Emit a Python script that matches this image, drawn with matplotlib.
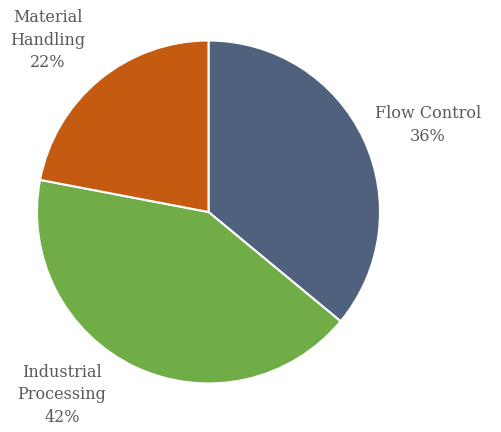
import matplotlib
matplotlib.use("Agg")
import matplotlib.pyplot as plt

segments = ["Flow Control", "Industrial\nProcessing", "Material\nHandling"]
shares = [36, 42, 22]
colors = ["#4F617D", "#70AD47", "#C55A11"]

# label centres in pixel coordinates of the 502x432 canvas
label_pixels = [(428, 125), (62, 395), (48, 40)]

W, H = 502, 432
cx, cy, r = 208.5, 212, 171.5

fig = plt.figure(figsize=(W / 100, H / 100), dpi=100)
ax = fig.add_axes([0, 0, 1, 1])
ax.pie(
    shares,
    colors=colors,
    startangle=90,
    counterclock=False,
    radius=1,
    wedgeprops={"edgecolor": "white", "linewidth": 1.5},
)
ax.set_xlim(-cx / r, (W - cx) / r)
ax.set_ylim(-(H - cy) / r, cy / r)
ax.set_aspect("equal")
ax.axis("off")

for name, share, (px, py) in zip(segments, shares, label_pixels):
    ax.text(
        px / W, 1 - py / H,
        f"{name}\n{share}%",
        transform=ax.transAxes,
        ha="center", va="center",
        fontsize=11.5, color="#595959",
        family="DejaVu Serif", linespacing=1.4,
    )

fig.savefig("out.png", dpi=100)
